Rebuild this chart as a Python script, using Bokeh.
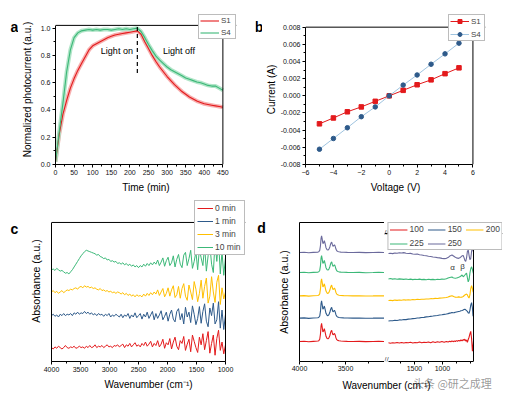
from bokeh.plotting import figure
from bokeh.layouts import row, column
from bokeh.models import (Range1d, SingleIntervalTicker, FixedTicker, NumeralTickFormatter,
                          Legend, LegendItem, Label, LinearAxis, Span)
from bokeh.embed import file_html
from bokeh.resources import INLINE

FONT = "Liberation Sans"

# ---------------- Panel a data ----------------
time_min = list(range(0, 451, 10))
s1_norm = [0.02, 0.22, 0.37, 0.47, 0.56, 0.63, 0.69, 0.74, 0.79, 0.84,
           0.87, 0.885, 0.90, 0.915, 0.93, 0.94, 0.95, 0.955, 0.96, 0.965,
           0.97, 0.975, 0.98, 0.955, 0.90, 0.85, 0.80, 0.755, 0.715, 0.68,
           0.645, 0.615, 0.585, 0.56, 0.535, 0.515, 0.495, 0.48, 0.465, 0.455,
           0.445, 0.44, 0.435, 0.43, 0.425, 0.42]
s4_norm = [0.02, 0.24, 0.45, 0.68, 0.84, 0.93, 0.965, 0.98, 0.985, 0.99,
           0.985, 0.99, 0.985, 0.99, 0.99, 0.985, 0.99, 0.995, 0.99, 0.995,
           0.99, 0.995, 1.0, 0.975, 0.93, 0.88, 0.835, 0.795, 0.765, 0.74,
           0.715, 0.695, 0.68, 0.665, 0.65, 0.635, 0.625, 0.615, 0.605, 0.60,
           0.59, 0.58, 0.575, 0.575, 0.56, 0.545]
time_limits = (0, 450)
norm_limits = (0, 1.02)
switch_time = [220]
switch_low = [0.67]
switch_high = [1.02]

# ---------------- Panel b data ----------------
voltage = [-5, -4, -3, -2, -1, 0, 1, 2, 3, 4, 5]
s1_current = [-0.00326, -0.00258, -0.00186, -0.00129, -0.00064, 0.0,
              0.00064, 0.00129, 0.00186, 0.00258, 0.00326]
s4_current = [-0.00622, -0.00497, -0.00372, -0.00243, -0.00129, 0.0,
              0.00125, 0.00243, 0.00368, 0.00489, 0.00614]
volt_limits = (-6, 6)
curr_limits = (-0.008, 0.008)

# ---------------- Panel c data ----------------
wn_c = list(range(4000, 999, -30))
wn_c_limits = (1000, 4000)
c_0min = [0.100, 0.090, 0.105, 0.095, 0.110, 0.100, 0.090, 0.100, 0.115, 0.100,
          0.095, 0.105, 0.100, 0.110, 0.095, 0.100, 0.110, 0.100, 0.105, 0.095,
          0.110, 0.100, 0.115, 0.100, 0.105, 0.120, 0.100, 0.110, 0.105, 0.115,
          0.100, 0.110, 0.120, 0.105, 0.110, 0.100, 0.115, 0.110, 0.120, 0.105,
          0.115, 0.125, 0.100, 0.120, 0.110, 0.130, 0.105, 0.120, 0.135, 0.110,
          0.120, 0.105, 0.130, 0.115, 0.140, 0.110, 0.125, 0.145, 0.105, 0.130,
          0.115, 0.150, 0.105, 0.125, 0.160, 0.095, 0.135, 0.120, 0.165, 0.090,
          0.140, 0.175, 0.110, 0.085, 0.150, 0.130, 0.180, 0.080, 0.125, 0.160,
          0.070, 0.190, 0.145, 0.100, 0.065, 0.175, 0.120, 0.200, 0.085, 0.150,
          0.215, 0.060, 0.130, 0.190, 0.045, 0.165, 0.225, 0.080, 0.140, 0.055,
          0.120]
c_1min = [0.330, 0.340, 0.325, 0.335, 0.320, 0.340, 0.330, 0.345, 0.330, 0.340,
          0.335, 0.345, 0.330, 0.350, 0.340, 0.355, 0.340, 0.350, 0.345, 0.360,
          0.345, 0.355, 0.340, 0.350, 0.335, 0.345, 0.330, 0.345, 0.335, 0.340,
          0.325, 0.340, 0.330, 0.345, 0.320, 0.335, 0.325, 0.340, 0.330, 0.320,
          0.340, 0.315, 0.335, 0.325, 0.345, 0.310, 0.335, 0.320, 0.350, 0.315,
          0.330, 0.345, 0.305, 0.340, 0.320, 0.355, 0.310, 0.335, 0.360, 0.300,
          0.345, 0.310, 0.335, 0.365, 0.300, 0.325, 0.355, 0.290, 0.340, 0.370,
          0.305, 0.285, 0.360, 0.380, 0.300, 0.345, 0.270, 0.390, 0.320, 0.355,
          0.280, 0.400, 0.340, 0.265, 0.310, 0.395, 0.275, 0.360, 0.415, 0.290,
          0.250, 0.385, 0.330, 0.420, 0.270, 0.300, 0.430, 0.240, 0.370, 0.230,
          0.340]
c_3min = [0.500, 0.510, 0.495, 0.505, 0.490, 0.500, 0.510, 0.495, 0.505, 0.515,
          0.510, 0.520, 0.515, 0.525, 0.530, 0.520, 0.535, 0.540, 0.530, 0.545,
          0.535, 0.540, 0.530, 0.535, 0.525, 0.530, 0.520, 0.515, 0.525, 0.510,
          0.515, 0.505, 0.510, 0.500, 0.505, 0.495, 0.500, 0.490, 0.500, 0.495,
          0.485, 0.495, 0.480, 0.490, 0.475, 0.485, 0.470, 0.480, 0.465, 0.480,
          0.470, 0.475, 0.465, 0.485, 0.470, 0.490, 0.475, 0.495, 0.480, 0.500,
          0.485, 0.515, 0.475, 0.500, 0.525, 0.465, 0.490, 0.530, 0.470, 0.515,
          0.545, 0.460, 0.480, 0.540, 0.455, 0.525, 0.560, 0.470, 0.440, 0.550,
          0.500, 0.445, 0.575, 0.520, 0.430, 0.490, 0.585, 0.455, 0.540, 0.600,
          0.420, 0.470, 0.610, 0.500, 0.425, 0.570, 0.620, 0.410, 0.530, 0.450,
          0.500]
c_10min = [0.660, 0.665, 0.655, 0.670, 0.660, 0.650, 0.655, 0.645, 0.635, 0.640,
           0.630, 0.645, 0.660, 0.680, 0.700, 0.720, 0.740, 0.760, 0.775, 0.790,
           0.800, 0.795, 0.790, 0.785, 0.780, 0.775, 0.765, 0.770, 0.755, 0.750,
           0.740, 0.745, 0.730, 0.735, 0.720, 0.725, 0.715, 0.720, 0.705, 0.710,
           0.700, 0.710, 0.695, 0.705, 0.690, 0.700, 0.685, 0.695, 0.680, 0.690,
           0.675, 0.690, 0.680, 0.700, 0.685, 0.705, 0.690, 0.710, 0.695, 0.715,
           0.700, 0.730, 0.690, 0.715, 0.745, 0.685, 0.725, 0.750, 0.690, 0.710,
           0.760, 0.680, 0.735, 0.770, 0.700, 0.675, 0.765, 0.785, 0.690, 0.740,
           0.800, 0.670, 0.720, 0.790, 0.660, 0.810, 0.745, 0.690, 0.830, 0.650,
           0.760, 0.840, 0.700, 0.640, 0.860, 0.720, 0.880, 0.630, 0.790, 0.620,
           0.750]
c_labels = ["0 min", "1 min", "3 min", "10 min"]

# ---------------- Panel d data (broken wavenumber axis) ----------------
wn_d_high = [4000, 3950, 3900, 3850, 3800, 3790, 3780, 3772, 3766, 3760,
             3754, 3746, 3738, 3730, 3722, 3712, 3700, 3690, 3680, 3670,
             3662, 3656, 3650, 3644, 3636, 3628, 3620, 3612, 3604, 3595,
             3585, 3570, 3550, 3520, 3480, 3420, 3350, 3280, 3200, 3140, 3076]
d100_high = [0.144, 0.146, 0.142, 0.145, 0.147, 0.150, 0.160, 0.198, 0.252, 0.274,
             0.250, 0.213, 0.220, 0.236, 0.213, 0.181, 0.165, 0.163, 0.170, 0.187,
             0.208, 0.219, 0.224, 0.207, 0.191, 0.196, 0.202, 0.191, 0.170, 0.157,
             0.152, 0.149, 0.147, 0.146, 0.145, 0.144, 0.145, 0.143, 0.144, 0.145, 0.144]
d150_high = [0.312, 0.314, 0.310, 0.313, 0.315, 0.318, 0.327, 0.362, 0.414, 0.436,
             0.412, 0.377, 0.384, 0.399, 0.377, 0.347, 0.332, 0.330, 0.337, 0.354,
             0.374, 0.384, 0.389, 0.372, 0.357, 0.362, 0.368, 0.357, 0.337, 0.325,
             0.320, 0.317, 0.315, 0.314, 0.313, 0.312, 0.313, 0.311, 0.312, 0.313, 0.312]
d200_high = [0.472, 0.474, 0.470, 0.473, 0.475, 0.478, 0.487, 0.522, 0.574, 0.594,
             0.572, 0.537, 0.544, 0.559, 0.537, 0.507, 0.492, 0.490, 0.497, 0.514,
             0.534, 0.544, 0.549, 0.532, 0.517, 0.522, 0.528, 0.517, 0.497, 0.485,
             0.480, 0.477, 0.475, 0.474, 0.473, 0.472, 0.473, 0.471, 0.472, 0.473, 0.472]
d225_high = [0.640, 0.642, 0.638, 0.641, 0.643, 0.646, 0.655, 0.690, 0.742, 0.762,
             0.740, 0.705, 0.712, 0.727, 0.705, 0.675, 0.660, 0.658, 0.665, 0.682,
             0.702, 0.712, 0.717, 0.700, 0.685, 0.690, 0.696, 0.685, 0.665, 0.653,
             0.648, 0.645, 0.643, 0.642, 0.641, 0.640, 0.641, 0.639, 0.640, 0.641, 0.640]
d250_high = [0.784, 0.786, 0.782, 0.785, 0.787, 0.790, 0.799, 0.834, 0.884, 0.904,
             0.884, 0.849, 0.854, 0.869, 0.849, 0.819, 0.804, 0.802, 0.809, 0.824,
             0.844, 0.854, 0.859, 0.844, 0.829, 0.834, 0.839, 0.829, 0.809, 0.797,
             0.792, 0.789, 0.787, 0.786, 0.785, 0.784, 0.785, 0.783, 0.784, 0.785, 0.784]

wn_d_low = [1964, 1930, 1890, 1850, 1810, 1770, 1730, 1690, 1650, 1610,
            1570, 1530, 1490, 1450, 1410, 1370, 1330, 1290, 1250, 1210,
            1170, 1130, 1090, 1050, 1010, 970, 930, 900, 870, 850,
            830, 810, 790, 770, 750, 730, 710, 690, 670, 650,
            630, 615, 600, 585, 570, 555, 540, 525, 510, 495,
            480, 465, 455, 446]
wn_low_limits = (446, 1964)
d100_low = [0.146, 0.143, 0.147, 0.144, 0.148, 0.145, 0.149, 0.144, 0.148, 0.146,
            0.150, 0.145, 0.149, 0.147, 0.152, 0.146, 0.151, 0.148, 0.153, 0.147,
            0.154, 0.149, 0.155, 0.150, 0.156, 0.151, 0.157, 0.153, 0.159, 0.154,
            0.161, 0.155, 0.160, 0.156, 0.163, 0.158, 0.165, 0.160, 0.168, 0.162,
            0.172, 0.165, 0.175, 0.160, 0.168, 0.150, 0.172, 0.190, 0.215, 0.236,
            0.180, 0.080, 0.110, 0.160]
d150_low = [0.317, 0.319, 0.318, 0.322, 0.321, 0.325, 0.324, 0.328, 0.327, 0.331,
            0.332, 0.335, 0.336, 0.340, 0.341, 0.344, 0.345, 0.349, 0.350, 0.353,
            0.355, 0.358, 0.360, 0.363, 0.365, 0.368, 0.371, 0.374, 0.378, 0.380,
            0.383, 0.381, 0.382, 0.385, 0.387, 0.389, 0.391, 0.393, 0.396, 0.398,
            0.402, 0.406, 0.408, 0.404, 0.398, 0.392, 0.380, 0.376, 0.400, 0.440,
            0.460, 0.420, 0.360, 0.352]
d200_low = [0.477, 0.479, 0.476, 0.480, 0.478, 0.481, 0.479, 0.482, 0.480, 0.483,
            0.481, 0.484, 0.483, 0.486, 0.484, 0.487, 0.486, 0.489, 0.488, 0.491,
            0.490, 0.493, 0.492, 0.495, 0.496, 0.498, 0.500, 0.504, 0.509, 0.512,
            0.514, 0.510, 0.506, 0.503, 0.502, 0.503, 0.505, 0.503, 0.502, 0.503,
            0.508, 0.514, 0.520, 0.524, 0.527, 0.520, 0.505, 0.496, 0.520, 0.570,
            0.592, 0.570, 0.548, 0.540]
d225_low = [0.645, 0.648, 0.644, 0.647, 0.643, 0.646, 0.644, 0.642, 0.645, 0.641,
            0.644, 0.640, 0.643, 0.641, 0.644, 0.640, 0.642, 0.639, 0.643, 0.640,
            0.642, 0.639, 0.643, 0.641, 0.644, 0.643, 0.647, 0.652, 0.656, 0.658,
            0.660, 0.655, 0.652, 0.650, 0.652, 0.655, 0.658, 0.662, 0.668, 0.676,
            0.662, 0.668, 0.676, 0.684, 0.690, 0.655, 0.622, 0.640, 0.690, 0.725,
            0.740, 0.720, 0.700, 0.688]
d250_low = [0.844, 0.846, 0.843, 0.848, 0.846, 0.850, 0.848, 0.851, 0.846, 0.844,
            0.845, 0.840, 0.838, 0.840, 0.834, 0.832, 0.829, 0.827, 0.823, 0.821,
            0.817, 0.815, 0.812, 0.810, 0.806, 0.804, 0.806, 0.812, 0.824, 0.828,
            0.832, 0.826, 0.820, 0.814, 0.810, 0.808, 0.806, 0.810, 0.818, 0.826,
            0.828, 0.812, 0.790, 0.782, 0.810, 0.860, 0.872, 0.830, 0.796, 0.805,
            0.860, 0.892, 0.870, 0.856]
d_labels = ["100", "150", "200", "225", "250"]

# ---------------- colours ----------------
RED = "#e31a1c"
RED_BAND = "#f6a6a6"
GREEN = "#3cb878"
GREEN_BAND = "#a9e2c2"
BLUE = "#2e5a8a"
LIGHT_BLUE = "#9fc4e0"
YELLOW = "#ffbf00"
PURPLE = "#6b6a9c"


def make_fig(w, h, xr, yr, bl, br, bt, bb, **kw):
    p = figure(width=w, height=h, x_range=xr, y_range=yr, output_backend="svg",
               toolbar_location=None, title=None, min_border_left=bl, min_border_right=br,
               min_border_top=bt, min_border_bottom=bb, **kw)
    p.grid.visible = False
    p.outline_line_color = None
    p.background_fill_color = "white"
    p.border_fill_color = "white"
    return p


def style_axis(ax, label_size="10px", tick_size="7px", label_standoff=3, tick_standoff=2):
    ax.axis_label_text_font = FONT
    ax.axis_label_text_font_style = "normal"
    ax.axis_label_text_font_size = label_size
    ax.axis_label_text_color = "black"
    ax.major_label_text_font = FONT
    ax.major_label_text_font_size = tick_size
    ax.major_label_text_color = "#111111"
    ax.axis_line_color = "black"
    ax.axis_line_width = 1
    ax.major_tick_line_color = "black"
    ax.minor_tick_line_color = "black"
    ax.major_tick_out = 3
    ax.major_tick_in = 0
    ax.minor_tick_out = 2
    ax.minor_tick_in = 0
    ax.axis_label_standoff = label_standoff
    ax.major_label_standoff = tick_standoff


def blank_axis(ax):
    ax.ticker = FixedTicker(ticks=[])
    ax.major_tick_out = 0
    ax.major_tick_in = 0
    ax.minor_tick_out = 0
    ax.minor_tick_in = 0
    ax.major_label_standoff = 0
    ax.axis_line_color = "black"


def box_edges(p, xlim, ylim):
    # top and right edges of the visible axes box
    p.add_layout(Span(location=ylim, dimension="width", line_color="black", line_width=1))
    p.add_layout(Span(location=xlim, dimension="height", line_color="black", line_width=1))


def make_legend(items, font_size="8px", glyph_w=19, label_w=12, row_h=9, pad=1, **kw):
    return Legend(items=items, location="top_right", label_text_font=FONT,
                  label_text_font_size=font_size, glyph_width=glyph_w, glyph_height=row_h,
                  label_height=row_h, label_width=label_w, label_standoff=2,
                  padding=pad, margin=0, border_line_color="#7a7a7a", border_line_width=1,
                  background_fill_color="white", background_fill_alpha=1.0, **kw)


def letter_strip(txt, w, h, fx, fy):
    s = figure(width=w, height=h, x_range=Range1d(0, 1), y_range=Range1d(0, 1),
               output_backend="svg", toolbar_location=None, title=None, min_border=0,
               x_axis_location=None, y_axis_location=None)
    s.grid.visible = False
    s.outline_line_color = None
    s.add_layout(Label(x=fx, y=fy, text=txt, text_font=FONT, text_font_style="bold",
                       text_font_size="14px", text_color="black",
                       text_align="center", text_baseline="middle"))
    return s


# ================= Panel a =================
pa = make_fig(237, 195, Range1d(0, 486.6), Range1d(0, 1.0998), 32, 19, 14, 29)
style_axis(pa.xaxis[0], label_standoff=4)
style_axis(pa.yaxis[0], label_standoff=5)
pa.xaxis.ticker = SingleIntervalTicker(interval=50, num_minor_ticks=2)
pa.yaxis.ticker = SingleIntervalTicker(interval=0.2, num_minor_ticks=2)
pa.yaxis.formatter = NumeralTickFormatter(format="0.0")
pa.xaxis.bounds = time_limits
pa.yaxis.bounds = norm_limits
pa.xaxis.axis_label = "Time (min)"
pa.yaxis.axis_label = "Normalized photocurrent (a.u.)"
pa.line(time_min, s1_norm, line_color=RED_BAND, line_width=4, line_alpha=0.9)
pa.line(time_min, s4_norm, line_color=GREEN_BAND, line_width=4, line_alpha=0.9)
ra1 = pa.line(time_min, s1_norm, line_color=RED, line_width=1.1)
ra4 = pa.line(time_min, s4_norm, line_color=GREEN, line_width=1.1)
pa.segment(x0=switch_time, y0=switch_low, x1=switch_time, y1=switch_high,
           line_color="black", line_width=1.2, line_dash="4 3")
for txt, xx in (("Light on", 165), ("Light off", 332)):
    pa.add_layout(Label(x=xx, y=0.83, text=txt, text_font=FONT, text_font_size="9px",
                        text_align="center", text_baseline="middle", text_color="black"))
box_edges(pa, time_limits[1], norm_limits[1])
pa.add_layout(make_legend([LegendItem(label="S1", renderers=[ra1]),
                           LegendItem(label="S4", renderers=[ra4])], label_w=13))
strip_a = letter_strip("a", 18, 195, 0.778, 0.915)

# ================= Panel b =================
pb = make_fig(248, 195, Range1d(-6, 6.901), Range1d(-0.008, 0.009475), 37, 25, 12, 29)
style_axis(pb.xaxis[0], label_standoff=4)
style_axis(pb.yaxis[0], label_standoff=1, tick_standoff=2)
pb.xaxis.ticker = SingleIntervalTicker(interval=2, num_minor_ticks=2)
pb.yaxis.ticker = SingleIntervalTicker(interval=0.002, num_minor_ticks=2)
pb.yaxis.formatter = NumeralTickFormatter(format="0.000")
pb.xaxis.bounds = volt_limits
pb.yaxis.bounds = curr_limits
pb.xaxis.axis_label = "Voltage (V)"
pb.yaxis.axis_label = "Current (A)"
lb1 = pb.line(voltage, s1_current, line_color=RED, line_width=1)
mb1 = pb.scatter(voltage, s1_current, marker="square", size=4.5, fill_color=RED, line_color=RED)
lb4 = pb.line(voltage, s4_current, line_color=LIGHT_BLUE, line_width=1)
mb4 = pb.scatter(voltage, s4_current, marker="circle", size=4.5, fill_color=BLUE, line_color=BLUE)
box_edges(pb, volt_limits[1], curr_limits[1])
pb.add_layout(make_legend([LegendItem(label="S1", renderers=[lb1, mb1]),
                           LegendItem(label="S4", renderers=[lb4, mb4])],
                          label_w=12, row_h=10))
strip_b = letter_strip("b", 7, 195, 0.5, 0.915)

# ================= Panel c =================
pc = make_fig(233, 197, Range1d(4000, 655.2), Range1d(0, 1.158), 29, 10, 5, 31)
style_axis(pc.xaxis[0], label_size="10px", label_standoff=4, tick_standoff=2)
style_axis(pc.yaxis[0], label_size="10.5px", label_standoff=10)
blank_axis(pc.yaxis[0])
pc.yaxis.bounds = (0, 1)
pc.xaxis.bounds = wn_c_limits
pc.xaxis.ticker = SingleIntervalTicker(interval=500, num_minor_ticks=2)
pc.xaxis.formatter = NumeralTickFormatter(format="0")
pc.xaxis.axis_label = "Wavenumber (cm\u207b\u00b9)"
pc.yaxis.axis_label = "Absorbance (a.u.)"
c_series = [c_0min, c_1min, c_3min, c_10min]
c_colors = [RED, BLUE, YELLOW, GREEN]
c_items = []
for lab, ys, col in zip(c_labels, c_series, c_colors):
    r = pc.line(wn_c, ys, line_color=col, line_width=1)
    c_items.append(LegendItem(label=lab, renderers=[r]))
box_edges(pc, wn_c_limits[0], 1)
pc.add_layout(make_legend(c_items, font_size="8.5px", glyph_w=16, label_w=27, row_h=10, pad=2))
strip_c = letter_strip("c", 22, 197, 0.636, 0.822)

# ================= Panel d (broken axis) =================
pdl = make_fig(112, 180, Range1d(4000, 3076), Range1d(0, 1), 27, 0, 27, 14)
style_axis(pdl.xaxis[0], tick_standoff=1)
style_axis(pdl.yaxis[0], label_size="10.5px", label_standoff=10)
blank_axis(pdl.yaxis[0])
pdl.yaxis.axis_label = "Absorbance (a.u.)"
pdl.xaxis.ticker = FixedTicker(ticks=[4000, 3500], minor_ticks=[3750, 3250])
pdl.xaxis.formatter = NumeralTickFormatter(format="0")
top_l = LinearAxis()
blank_axis(top_l)
pdl.add_layout(top_l, "above")

pdr = make_fig(126, 180, Range1d(2035, -72), Range1d(0, 1.0863), 0, 8, 15, 14,
               y_axis_location=None)
style_axis(pdr.xaxis[0], tick_standoff=1)
pdr.xaxis.ticker = FixedTicker(ticks=[1500, 1000], minor_ticks=[1750, 1250, 750, 500])
pdr.xaxis.formatter = NumeralTickFormatter(format="0")
pdr.xaxis.bounds = wn_low_limits

d_high = [d100_high, d150_high, d200_high, d225_high, d250_high]
d_low = [d100_low, d150_low, d200_low, d225_low, d250_low]
d_colors = [RED, BLUE, YELLOW, GREEN, PURPLE]
d_items = []
for lab, yh, yl, col in zip(d_labels, d_high, d_low, d_colors):
    pdl.line(wn_d_high, yh, line_color=col, line_width=1.1)
    r = pdr.line(wn_d_low, yl, line_color=col, line_width=1.1)
    d_items.append(LegendItem(label=lab, renderers=[r]))
for txt, xx, yy in (("\u03b1", 821, 0.736), ("\u03b2", 643, 0.745)):
    pdr.add_layout(Label(x=xx, y=yy, text=txt, text_font=FONT, text_font_size="8px",
                         text_color="#333333", text_align="center", text_baseline="middle"))
for yy, dy in ((1.0, 1), (0.0, 2)):
    pdr.add_layout(Label(x=wn_low_limits[1], y=yy, x_offset=-2, y_offset=dy, text="//",
                         text_font=FONT, text_font_size="8px", text_color="#555555",
                         text_align="center", text_baseline="middle"))
box_edges(pdr, wn_low_limits[0], 1)
pdr.add_layout(make_legend(d_items, font_size="8.5px", glyph_w=18, label_w=14, row_h=9,
                           pad=1, orientation="horizontal", ncols=3, spacing=4))
strip_d = letter_strip("d", 17, 197, 0.353, 0.832)

# x-axis title shared by both halves of panel d
pdt = figure(width=238, height=17, x_range=Range1d(0, 1), y_range=Range1d(0, 1),
             output_backend="svg", toolbar_location=None, title=None, min_border=0,
             x_axis_location=None, y_axis_location=None)
pdt.grid.visible = False
pdt.outline_line_color = None
pdt.add_layout(Label(x=0.479, y=0.42, text="Wavenumber (cm\u207b\u00b9)", text_font=FONT,
                     text_font_size="10px", text_color="black",
                     text_align="center", text_baseline="middle"))
pdt.add_layout(Label(x=0.756, y=0.55, text="\u5934\u6761 @\u7814\u4e4b\u6210\u7406",
                     text_font="Noto Sans CJK SC", text_font_size="11px",
                     text_color="#444444", text_alpha=0.55,
                     text_align="center", text_baseline="middle"))

layout = column(row(strip_a, pa, strip_b, pb),
                row(strip_c, pc, strip_d, column(row(pdl, pdr), pdt)))
open("out.html", "w").write(file_html(layout, INLINE))
